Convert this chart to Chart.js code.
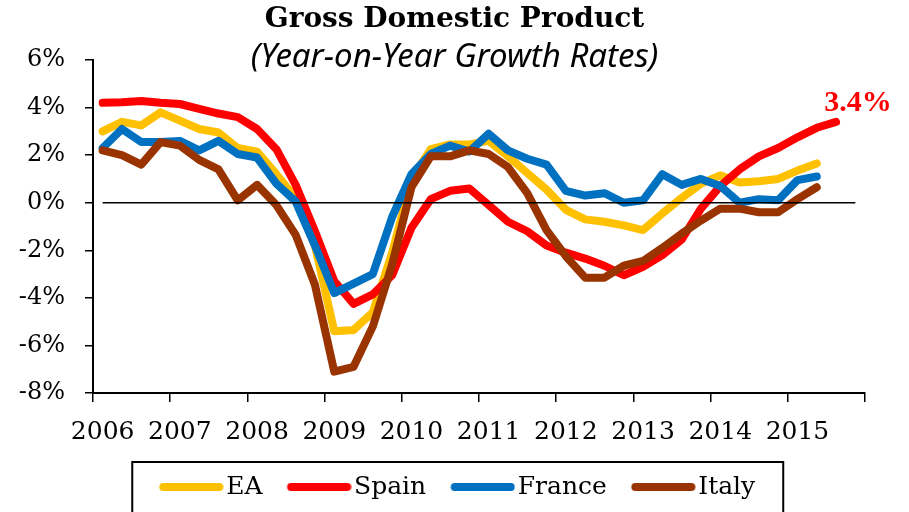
<!DOCTYPE html>
<html>
<head>
<meta charset="utf-8">
<script src="https://cdn.jsdelivr.net/npm/chart.js@4"></script>
<style>
    html, body { margin: 0; padding: 0; background: #fff; }
    #wrap { width: 909px; height: 512px; position: relative; }
</style>
</head>
<body>
<div id="wrap"><canvas id="gdp-chart"></canvas></div>
<script>
// Quarterly year-on-year GDP growth, 2006Q1 .. 2015Q3 (%)
const years = ['2006', '2007', '2008', '2009', '2010', '2011', '2012', '2013', '2014', '2015'];
const quarters = ['Q1', 'Q2', 'Q3', 'Q4'];
const categories = years.flatMap(y => quarters.map(q => `${y} ${q}`));

const ea = [3.0, 3.4, 3.25, 3.8, 3.45, 3.1, 2.95, 2.3, 2.15, 1.2, 0.2, -1.8, -5.4, -5.35, -4.6, -2.1,
    1.0, 2.25, 2.45, 2.45, 2.6, 1.95, 1.25, 0.55, -0.3, -0.7, -0.8, -0.95, -1.15, -0.45, 0.2, 0.8,
    1.15, 0.85, 0.9, 1.0, 1.35, 1.65];
const spain = [4.2, 4.22, 4.28, 4.2, 4.15, 3.95, 3.75, 3.6, 3.1, 2.25, 0.75, -1.2, -3.3, -4.25, -3.85, -3.05,
    -1.05, 0.15, 0.5, 0.6, -0.1, -0.8, -1.2, -1.8, -2.1, -2.35, -2.65, -3.05, -2.7, -2.2, -1.55, -0.25,
    0.7, 1.4, 1.95, 2.3, 2.75, 3.15, 3.4];
const france = [2.3, 3.1, 2.55, 2.55, 2.6, 2.2, 2.6, 2.05, 1.9, 0.8, 0.05, -1.8, -3.8, -3.4, -3.0, -0.6,
    1.2, 2.05, 2.4, 2.15, 2.9, 2.2, 1.85, 1.6, 0.5, 0.3, 0.4, 0.0, 0.1, 1.2, 0.75, 1.0,
    0.7, 0.0, 0.15, 0.1, 0.95, 1.1];
const italy = [2.2, 2.0, 1.6, 2.55, 2.4, 1.8, 1.4, 0.1, 0.75, -0.1, -1.35, -3.45, -7.1, -6.9, -5.2, -2.6,
    0.65, 1.95, 1.95, 2.2, 2.05, 1.5, 0.4, -1.15, -2.25, -3.15, -3.15, -2.65, -2.45, -1.9, -1.3, -0.75,
    -0.25, -0.25, -0.4, -0.4, 0.15, 0.65];

const yTicks = [-8, -6, -4, -2, 0, 2, 4, 6];

const colors = {
    ea: '#FFC000',
    spain: '#FF0000',
    france: '#0070C0',
    italy: '#993300'
};

const serif = '"DejaVu Serif", serif';

function series(label, data, color, order) {
    return {
        label,
        data,
        borderColor: color,
        backgroundColor: color,
        borderWidth: 8,
        borderCapStyle: 'round',
        borderJoinStyle: 'round',
        pointRadius: 0,
        pointHoverRadius: 0,
        tension: 0,
        order
    };
}

// Legend swatch: thick rounded line that runs up close to the label text
function swatch(color) {
    const c = document.createElement('canvas');
    c.width = 80;
    c.height = 10;
    const g = c.getContext('2d');
    g.strokeStyle = color;
    g.lineWidth = 8;
    g.lineCap = 'round';
    g.beginPath();
    g.moveTo(19.5, 5);
    g.lineTo(75.5, 5);
    g.stroke();
    return c;
}

// black line at 0%, from first to last quarter, on top of the series
const zeroLine = {
    id: 'zeroLine',
    afterDatasetsDraw(chart) {
        const {ctx, scales: {x, y}} = chart;
        const y0 = y.getPixelForValue(0);
        ctx.save();
        ctx.strokeStyle = '#000';
        ctx.lineWidth = 1.5;
        ctx.beginPath();
        ctx.moveTo(x.getPixelForValue(0), y0);
        ctx.lineTo(x.getPixelForValue(categories.length - 1), y0);
        ctx.stroke();
        ctx.restore();
    }
};

// last Spain value printed next to its end point
const lastValueLabel = {
    id: 'lastValueLabel',
    afterDatasetsDraw(chart) {
        const meta = chart.getDatasetMeta(1);
        const pt = meta.data[meta.data.length - 1];
        if (!pt) return;
        const {ctx} = chart;
        ctx.save();
        ctx.font = 'bold 30px "Liberation Serif", serif';
        ctx.fillStyle = colors.spain;
        ctx.textAlign = 'center';
        ctx.textBaseline = 'middle';
        ctx.fillText(`${spain[spain.length - 1].toFixed(1)}%`, pt.x + 22, pt.y - 19);
        ctx.restore();
    }
};

// frame around the legend (runs off the bottom edge like the original)
const legendFrame = {
    id: 'legendFrame',
    afterDraw(chart) {
        const legend = chart.legend;
        const boxes = legend.legendHitBoxes || [];
        if (!boxes.length) return;
        const left = Math.min(...boxes.map(b => b.left)) - 21.5;
        const right = Math.max(...boxes.map(b => b.left + b.width)) + 28;
        const top = legend.top + 6.5;
        const {ctx} = chart;
        ctx.save();
        ctx.strokeStyle = '#000';
        ctx.lineWidth = 2;
        ctx.strokeRect(left, top, right - left, 100);
        ctx.restore();
    }
};

new Chart(document.getElementById('gdp-chart'), {
    type: 'line',
    data: {
        labels: categories,
        datasets: [
            series('EA', ea, colors.ea, 4),
            series('Spain', spain, colors.spain, 3),
            series('France', france, colors.france, 2),
            series('Italy', italy, colors.italy, 1)
        ]
    },
    options: {
        responsive: true,
        maintainAspectRatio: false,
        animation: false,
        layout: { padding: { left: 0, right: 0, top: 0, bottom: 2.5 } },
        plugins: {
            tooltip: { enabled: false },
            title: {
                display: true,
                text: 'Gross Domestic Product',
                color: '#000',
                font: { family: serif, weight: 'bold', size: 28, lineHeight: 1.2 },
                padding: { top: 3, bottom: 0 }
            },
            subtitle: {
                display: true,
                text: '(Year-on-Year Growth Rates)',
                color: '#000',
                font: { family: '"Noto Sans", sans-serif', style: 'italic', size: 33, lineHeight: 1.2 },
                padding: { top: 1, bottom: -17.2 }
            },
            legend: {
                position: 'bottom',
                labels: {
                    color: '#000',
                    font: { family: serif, size: 25 },
                    usePointStyle: true,
                    pointStyleWidth: 60,
                    padding: 19,
                    sort: (a, b) => a.datasetIndex - b.datasetIndex,
                    generateLabels: chart => Chart.defaults.plugins.legend.labels.generateLabels(chart)
                        .map(item => ({ ...item, pointStyle: swatch(item.strokeStyle) }))
                }
            }
        },
        scales: {
            x: {
                type: 'category',
                offset: true,
                grid: {
                    offset: true,
                    drawOnChartArea: false,
                    drawTicks: true,
                    tickLength: 9,
                    lineWidth: 1.5,
                    color: c => (c.type !== 'tick' || c.index % 4 === 0) ? '#000' : 'rgba(0,0,0,0)'
                },
                border: { display: true, color: '#000', width: 2 },
                ticks: {
                    autoSkip: false,
                    maxRotation: 0,
                    minRotation: 0,
                    padding: 15,
                    color: '#000',
                    font: { family: serif, size: 25 },
                    callback: (val, i) => i % 4 === 0 ? categories[i].slice(0, 4) : ''
                },
                afterFit: scale => { scale.height = 62.5; }
            },
            y: {
                min: yTicks[0],
                max: yTicks[yTicks.length - 1],
                afterBuildTicks: scale => { scale.ticks = yTicks.map(v => ({ value: v })); },
                grid: {
                    drawOnChartArea: false,
                    drawTicks: true,
                    tickLength: 8,
                    lineWidth: 1.5,
                    color: '#000'
                },
                border: { display: true, color: '#000', width: 2 },
                ticks: {
                    padding: 20,
                    color: '#000',
                    font: { family: serif, size: 24 },
                    callback: v => `${v}%`
                },
                afterFit: scale => { scale.width = 93; }
            },
            // empty right-hand margin, keeps the plot right edge in place
            yRight: {
                position: 'right',
                display: true,
                grid: { display: false },
                border: { display: false },
                ticks: { display: false },
                afterFit: scale => { scale.width = 44; }
            }
        }
    },
    plugins: [zeroLine, lastValueLabel, legendFrame]
});
</script>
</body>
</html>
